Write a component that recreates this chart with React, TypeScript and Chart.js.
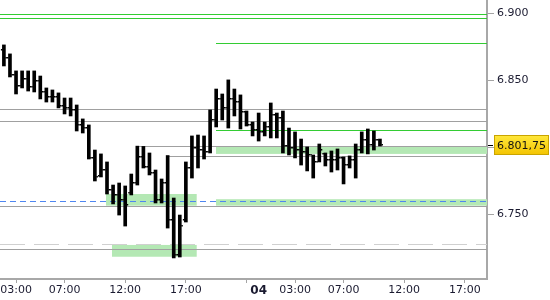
import React, { useEffect, useRef } from 'react';
import { Chart, registerables } from 'chart.js';

Chart.register(...registerables);

// 30-minute OHLC bars (bar slot 0 = 02:00 of day 3; the 17:00-18:00 break has no slot)
const highs = [
  6.8765, 6.8698, 6.8571, 6.8571, 6.8571, 6.8571, 6.8533, 6.8444, 6.8429, 6.8407,
  6.8369, 6.8369, 6.8317, 6.8213, 6.8168, 6.7981, 6.7952, 6.7892, 6.7720, 6.7735,
  6.7713, 6.7802, 6.8010, 6.8008, 6.7959, 6.7832, 6.7765, 6.7940, 6.7623, 6.7496,
  6.7892, 6.8086, 6.8093, 6.8086, 6.8280, 6.8436, 6.8399, 6.8504, 6.8436, 6.8392,
  6.8272, 6.8190, 6.8257, 6.8190, 6.8332, 6.8257, 6.8272, 6.8145, 6.8116, 6.8063,
  6.8004, 6.7944, 6.8026, 6.7959, 6.7974, 6.7989, 6.7929, 6.7937, 6.8026, 6.8116,
  6.8138, 6.8123, 6.8063,
];
const lows = [
  6.8608, 6.8526, 6.8399, 6.8444, 6.8421, 6.8414, 6.8362, 6.8339, 6.8339, 6.8295,
  6.8250, 6.8235, 6.8123, 6.8108, 6.7914, 6.7750, 6.7780, 6.7653, 6.7579, 6.7496,
  6.7414, 6.7646, 6.7720, 6.7847, 6.7795, 6.7586, 6.7586, 6.7399, 6.7176, 6.7183,
  6.7444, 6.7772, 6.7847, 6.7914, 6.7959, 6.8153, 6.8205, 6.8145, 6.8235, 6.8138,
  6.8160, 6.8086, 6.8048, 6.8086, 6.8071, 6.8071, 6.7959, 6.7944, 6.7922, 6.7869,
  6.7825, 6.7772, 6.7892, 6.7862, 6.7817, 6.7832, 6.7728, 6.7847, 6.7772, 6.7959,
  6.7952, 6.7981, 6.8011,
];
const opens = [
  6.8730, 6.8668, 6.8541, 6.8459, 6.8511, 6.8451, 6.8496, 6.8414, 6.8377, 6.8377,
  6.8310, 6.8295, 6.8280, 6.8168, 6.8145, 6.7922, 6.7790, 6.7832, 6.7683, 6.7646,
  6.7608, 6.7660, 6.7735, 6.7929, 6.7855, 6.7810, 6.7608, 6.7735, 6.7459, 6.7198,
  6.7460, 6.7847, 6.7996, 6.7981, 6.7966, 6.8205, 6.8362, 6.8295, 6.8362, 6.8339,
  6.8265, 6.8168, 6.8131, 6.8116, 6.8153, 6.8242, 6.8220, 6.8011, 6.7996, 6.7981,
  6.7966, 6.7944, 6.7892, 6.7950, 6.7907, 6.7907, 6.7922, 6.7869, 6.7907, 6.7981,
  6.8056, 6.8019, 6.8056,
];
const closes = [
  6.8668, 6.8541, 6.8459, 6.8511, 6.8451, 6.8496, 6.8414, 6.8377, 6.8377, 6.8310,
  6.8295, 6.8280, 6.8168, 6.8145, 6.7922, 6.7780, 6.7832, 6.7683, 6.7646, 6.7608,
  6.7571, 6.7735, 6.7929, 6.7855, 6.7810, 6.7608, 6.7735, 6.7459, 6.7198, 6.7414,
  6.7847, 6.7996, 6.7981, 6.7966, 6.8205, 6.8362, 6.8295, 6.8362, 6.8339, 6.8265,
  6.8168, 6.8131, 6.8116, 6.8153, 6.8242, 6.8220, 6.8011, 6.7996, 6.7981, 6.7966,
  6.7944, 6.7892, 6.7981, 6.7907, 6.7907, 6.7922, 6.7869, 6.7907, 6.7981, 6.8056,
  6.8019, 6.8056, 6.80175,
];

const lastPrice = 6.80175;
const lastPriceText = '6.801,75';

// x axis ticks (in bar slots)
const xTickPositions = [2, 10, 20, 30, 40, 42, 48, 56, 66, 76];
const xTickLabels = ['03:00', '07:00', '12:00', '17:00', '', '04', '03:00', '07:00', '12:00', '17:00'];
const yTickValues = [6.75, 6.8, 6.85, 6.9];

// levels
const fullGreenLevels = [6.8996, 6.8964];
const sessionGreenLevels = [6.8778, 6.8131];
const sessionStart = 34.97;
const fullGrayLevels = [6.8285, 6.8196, 6.7560, 6.7241];
const rayLevels = [6.8010, 6.7940];
const rayStarts = [22, 27];
const blueDashedLevels = [6.7603];
const lightDashedLevels = [6.7278];
const zoneTops = [6.7653, 6.7273, 6.8006, 6.7614];
const zoneBottoms = [6.7566, 6.7185, 6.7952, 6.7566];
const zoneStarts = [16.83, 17.82, 34.97, 34.97];
const zoneEnds = [31.79, 31.79, null, null];

const X_MIN = -0.643;
const X_MAX = 79.65;
const Y_MIN = 6.7019;
const Y_MAX = 6.91;

const FONT = '"DejaVu Sans", Verdana, sans-serif';

const zeroPad = (s: any) => {
  s.paddingLeft = 0;
  s.paddingRight = 0;
  s.paddingTop = 0;
  s.paddingBottom = 0;
};

const overlayPlugin = {
  id: 'overlay',
  beforeDatasetsDraw(chart: any) {
    const { ctx, chartArea: ca, scales } = chart;
    const x = scales.x;
    const y = scales.y;
    ctx.save();
    ctx.beginPath();
    ctx.rect(ca.left, ca.top, ca.right - ca.left, ca.bottom - ca.top);
    ctx.clip();

    ctx.fillStyle = 'rgb(180,232,180)';
    zoneTops.forEach((t, i) => {
      const x0 = x.getPixelForValue(zoneStarts[i]);
      const x1 = zoneEnds[i] == null ? ca.right : x.getPixelForValue(zoneEnds[i] as number);
      const y0 = y.getPixelForValue(t);
      const y1 = y.getPixelForValue(zoneBottoms[i]);
      ctx.fillRect(x0, y0, x1 - x0, y1 - y0);
    });

    const hline = (v: number, from: number, color: string, dash: number[] = []) => {
      const py = Math.round(y.getPixelForValue(v)) + 0.5;
      ctx.strokeStyle = color;
      ctx.lineWidth = 1;
      ctx.setLineDash(dash);
      ctx.beginPath();
      ctx.moveTo(from, py);
      ctx.lineTo(ca.right, py);
      ctx.stroke();
    };

    fullGrayLevels.forEach((v) => hline(v, ca.left, '#a0a0a0'));
    rayLevels.forEach((v, i) => hline(v, x.getPixelForValue(rayStarts[i]), '#a0a0a0'));
    lightDashedLevels.forEach((v) => hline(v, ca.left, '#d0d0d0', [25, 9]));
    blueDashedLevels.forEach((v) => hline(v, ca.left, '#4f86f0', [6, 4]));
    fullGreenLevels.forEach((v) => hline(v, ca.left, '#33cc33'));
    sessionGreenLevels.forEach((v) => hline(v, x.getPixelForValue(sessionStart), '#33cc33'));
    ctx.setLineDash([]);
    ctx.restore();
  },
  afterDatasetsDraw(chart: any) {
    const { ctx, scales } = chart;
    const y = scales.y;
    const meta = chart.getDatasetMeta(0);
    ctx.save();
    ctx.fillStyle = '#000';
    meta.data.forEach((el: any, i: number) => {
      const bx = el.x;
      const yo = Math.round(y.getPixelForValue(opens[i]));
      const yc = Math.round(y.getPixelForValue(closes[i]));
      ctx.fillRect(bx - 3, yo - 1, 1.5, 1.5);
      ctx.fillRect(bx + 1.5, yc - 1, 1.5, 1.5);
    });
    ctx.restore();
  },
  afterDraw(chart: any) {
    const { ctx, chartArea: ca, scales } = chart;
    const y = scales.y;
    const py = y.getPixelForValue(lastPrice);
    ctx.save();
    ctx.strokeStyle = '#000';
    ctx.lineWidth = 1;
    ctx.beginPath();
    ctx.moveTo(ca.right + 1, Math.round(py) + 0.5);
    ctx.lineTo(ca.right + 6, Math.round(py) + 0.5);
    ctx.stroke();
    const bx = ca.right + 7;
    const bw = 550 - bx - 1;
    const by = Math.round(py) - 10;
    const bh = 20;
    const g = ctx.createLinearGradient(0, by, 0, by + bh);
    g.addColorStop(0, '#ffe83c');
    g.addColorStop(1, '#f3c300');
    ctx.fillStyle = g;
    ctx.fillRect(bx, by, bw, bh);
    ctx.strokeStyle = '#c9a400';
    ctx.strokeRect(bx + 0.5, by + 0.5, bw - 1, bh - 1);
    ctx.fillStyle = '#111';
    ctx.font = '11px ' + FONT;
    ctx.textBaseline = 'middle';
    ctx.textAlign = 'left';
    ctx.fillText(lastPriceText, bx + 3, by + bh / 2 + 1);
    ctx.restore();
  },
};

export default function App() {
  const ref = useRef<HTMLCanvasElement | null>(null);

  useEffect(() => {
    if (!ref.current) return;
    const data = highs.map((h, i) => ({ x: i, y: [lows[i], h] }));
    const chart = new Chart(ref.current, {
      type: 'bar',
      data: {
        datasets: [
          {
            data: data as any,
            backgroundColor: '#000',
            borderWidth: 0,
            barThickness: 3,
          },
        ],
      },
      options: {
        responsive: false,
        animation: false,
        layout: { padding: 0 },
        plugins: { legend: { display: false }, tooltip: { enabled: false } },
        scales: {
          x: {
            type: 'linear',
            offset: false,
            min: X_MIN,
            max: X_MAX,
            afterBuildTicks: (s: any) => {
              s.ticks = xTickPositions.map((v) => ({ value: v }));
            },
            afterFit: (s: any) => {
              s.height = 21;
              zeroPad(s);
            },
            grid: {
              offset: false,
              drawOnChartArea: false,
              tickLength: 4,
              tickColor: (c: any) => (c.index === 5 ? 'rgba(0,0,0,0)' : '#a4a4a4'),
            },
            border: { color: '#a8a8a8', width: 2 },
            ticks: {
              autoSkip: false,
              maxRotation: 0,
              padding: 1,
              color: '#1a1a30',
              font: (c: any) =>
                c.index === 5
                  ? { family: FONT, size: 12, weight: 'bold' }
                  : { family: FONT, size: 11 },
              callback: (_v: any, i: number) => xTickLabels[i],
            },
          },
          y: {
            type: 'linear',
            position: 'right',
            min: Y_MIN,
            max: Y_MAX,
            afterBuildTicks: (s: any) => {
              s.ticks = yTickValues.map((v) => ({ value: v }));
            },
            afterFit: (s: any) => {
              s.width = 63;
              zeroPad(s);
            },
            grid: { drawOnChartArea: false, tickLength: 7, tickColor: '#a4a4a4' },
            border: { color: '#a8a8a8', width: 2 },
            ticks: {
              padding: 3,
              color: '#1a1a30',
              font: { family: FONT, size: 11 },
              callback: (v: any) => Number(v).toFixed(3),
            },
          },
        },
      },
      plugins: [overlayPlugin],
    } as any);
    return () => chart.destroy();
  }, []);

  return (
    <div style={{ position: 'absolute', left: 0, top: 0, width: 550, height: 300, background: '#fff' }}>
      <canvas ref={ref} width={550} height={300} />
    </div>
  );
}
